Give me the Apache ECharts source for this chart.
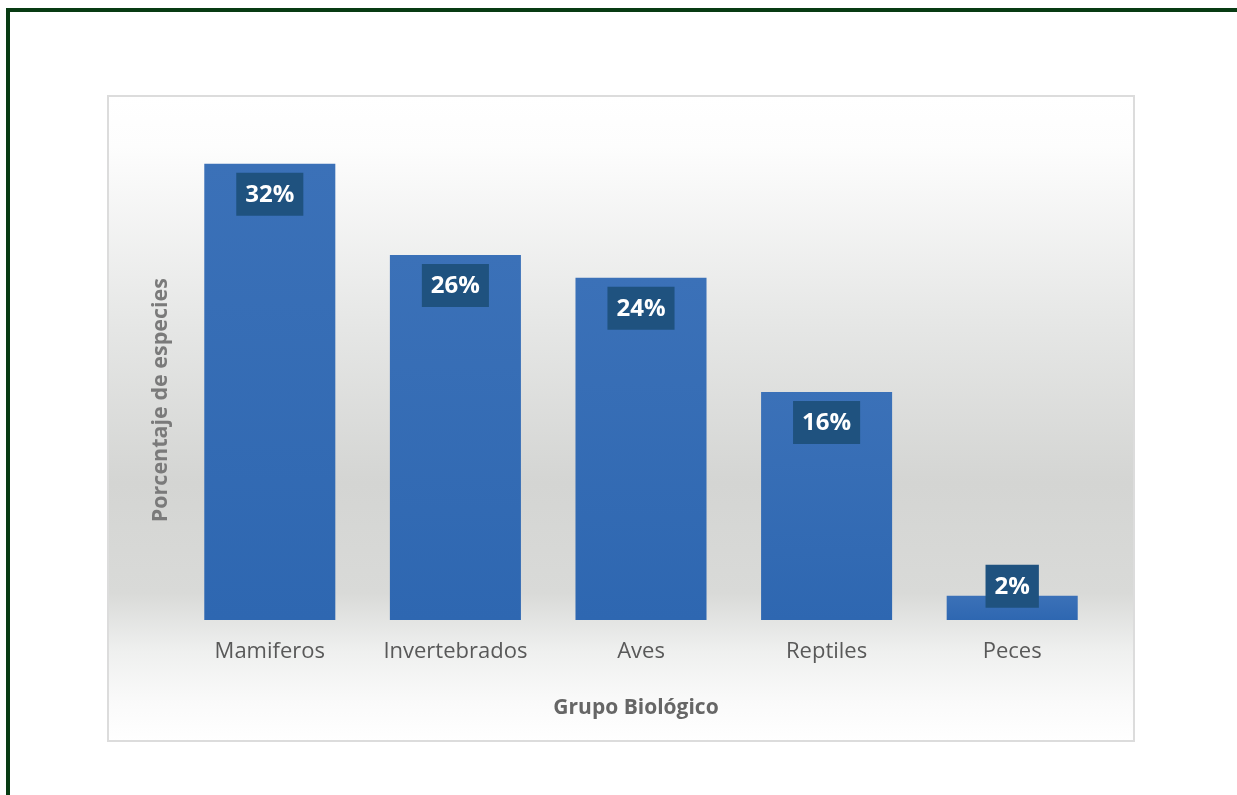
<!DOCTYPE html>
<html>
<head>
<meta charset="utf-8">
<script src="https://cdn.jsdelivr.net/npm/echarts@6/dist/echarts.min.js"></script>
<style>
    html, body { margin: 0; padding: 0; background: #fff; }
    #chart { width: 1237px; height: 795px; }
</style>
</head>
<body>
<div id="chart"></div>
<script>
    // datos
    var grupos = ['Mamiferos', 'Invertebrados', 'Aves', 'Reptiles', 'Peces'];
    var porcentajes = [32, 25.6, 24, 16, 1.7];
    var etiquetas = ['32%', '26%', '24%', '16%', '2%'];

    var myChart = echarts.init(document.getElementById('chart'));

    var datos = porcentajes.map(function (v, i) {
        var item = { value: v };
        // la barra de Peces es muy baja, su etiqueta queda por encima
        if (v < 5) {
            item.label = { position: 'top', distance: -12 };
        }
        return item;
    });

    myChart.setOption({
        animation: false,
        graphic: [
            {
                // marco verde
                type: 'rect',
                z: -10,
                shape: { x: 8, y: 10, width: 1400, height: 900 },
                style: { fill: 'none', stroke: '#083b13', lineWidth: 4 }
            },
            {
                // fondo del grafico
                type: 'rect',
                z: -9,
                shape: { x: 108, y: 96, width: 1026, height: 645 },
                style: {
                    stroke: '#dcdcdc',
                    lineWidth: 2,
                    fill: new echarts.graphic.LinearGradient(0, 0, 0, 1, [
                        { offset: 0, color: '#ffffff' },
                        { offset: 0.08, color: '#fdfdfd' },
                        { offset: 0.35, color: '#e6e7e6' },
                        { offset: 0.6, color: '#d4d5d3' },
                        { offset: 0.77, color: '#d9dad8' },
                        { offset: 0.86, color: '#eff0ef' },
                        { offset: 0.94, color: '#fafafa' },
                        { offset: 1, color: '#ffffff' }
                    ])
                }
            },
            {
                type: 'text',
                left: 150,
                top: 278,
                rotation: Math.PI / 2,
                style: {
                    text: 'Porcentaje de especies',
                    fill: '#7a7a7a',
                    font: 'bold 21.5px "Open Sans"'
                }
            }
        ],
        grid: {
            left: 177,
            right: 132,
            top: 121,
            bottom: 175
        },
        xAxis: {
            type: 'category',
            data: grupos,
            axisLine: { show: false },
            axisTick: { show: false },
            axisLabel: {
                interval: 0,
                color: '#595959',
                fontSize: 22,
                fontFamily: 'Open Sans',
                margin: 21
            },
            name: 'Grupo Biológico',
            nameLocation: 'middle',
            nameGap: 78,
            nameTextStyle: {
                color: '#666666',
                fontSize: 21,
                fontWeight: 'bold',
                fontFamily: 'Open Sans',
                padding: [0, 10, 0, 0]
            }
        },
        yAxis: {
            type: 'value',
            min: 0,
            max: 35,
            show: false,
            splitLine: { show: false }
        },
        series: [
            {
                name: 'Porcentaje',
                type: 'bar',
                barWidth: '70.6%',
                itemStyle: {
                    color: new echarts.graphic.LinearGradient(0, 0, 0, 1, [
                        { offset: 0, color: '#3b71b8' },
                        { offset: 1, color: '#2e67b1' }
                    ])
                },
                label: {
                    show: true,
                    position: 'insideTop',
                    distance: 9,
                    backgroundColor: '#1f527f',
                    padding: [10, 9, 9, 9],
                    color: '#ffffff',
                    fontSize: 24,
                    fontWeight: 'bold',
                    fontFamily: 'Open Sans',
                    formatter: function (p) { return etiquetas[p.dataIndex]; }
                },
                data: datos
            }
        ]
    });
</script>
</body>
</html>
